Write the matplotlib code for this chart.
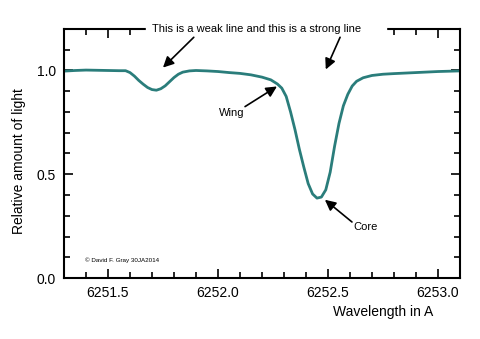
import numpy as np
import matplotlib
matplotlib.use("Agg")
import matplotlib.pyplot as plt
from matplotlib.ticker import MultipleLocator
from matplotlib.patches import Rectangle

plt.rcParams['font.family'] = ['Liberation Sans', 'DejaVu Sans']

# Espectro: longitud de onda (A) y flujo relativo
wave = [6251.30, 6251.35, 6251.40, 6251.45, 6251.50, 6251.55, 6251.58,
        6251.60, 6251.62, 6251.64, 6251.66, 6251.68, 6251.70, 6251.72,
        6251.74, 6251.76, 6251.78, 6251.80, 6251.82, 6251.84, 6251.87,
        6251.90, 6251.95, 6252.00, 6252.05, 6252.10, 6252.15, 6252.20,
        6252.24, 6252.27, 6252.29, 6252.31, 6252.33, 6252.35, 6252.37,
        6252.39, 6252.41, 6252.43, 6252.45, 6252.47, 6252.49, 6252.51,
        6252.53, 6252.55, 6252.57, 6252.59, 6252.61, 6252.63, 6252.66,
        6252.70, 6252.75, 6252.80, 6252.90, 6253.00, 6253.10]
flux = [0.997, 1.000, 1.002, 1.001, 1.000, 0.999, 0.999,
        0.990, 0.973, 0.952, 0.934, 0.918, 0.908, 0.905,
        0.912, 0.926, 0.946, 0.966, 0.982, 0.992, 0.998,
        1.000, 0.998, 0.995, 0.990, 0.986, 0.979, 0.968,
        0.955, 0.935, 0.915, 0.875, 0.800, 0.715, 0.620,
        0.535, 0.455, 0.405, 0.385, 0.390, 0.425, 0.510,
        0.635, 0.745, 0.830, 0.885, 0.925, 0.948, 0.965,
        0.976, 0.982, 0.985, 0.990, 0.995, 0.998]

# Flechas: (punta, cola) en coordenadas de datos
weak_arrow = ((6251.75, 1.014), (6251.89, 1.16))
strong_arrow = ((6252.49, 1.005), (6252.555, 1.16))
wing_arrow = ((6252.268, 0.923), (6252.123, 0.826))
core_arrow = ((6252.486, 0.377), (6252.609, 0.270))

fig = plt.figure(figsize=(4.8, 3.39), dpi=100)
ax = fig.add_axes([0.1333, 0.1799, 0.825, 0.7346])

ax.plot(wave, flux, color='#2a7d7b', lw=2.0, solid_capstyle='round')

ax.set_xlim(6251.3, 6253.1)
ax.set_ylim(0, 1.2)
ax.xaxis.set_major_locator(MultipleLocator(0.5))
ax.xaxis.set_minor_locator(MultipleLocator(0.1))
ax.yaxis.set_major_locator(MultipleLocator(0.5))
ax.yaxis.set_minor_locator(MultipleLocator(0.1))
ax.xaxis.set_major_formatter(matplotlib.ticker.FormatStrFormatter('%.1f'))
ax.yaxis.set_major_formatter(matplotlib.ticker.FormatStrFormatter('%.1f'))

ax.tick_params(which='both', direction='in', top=True, right=True,
               width=1.2, labelsize=10)
ax.tick_params(which='major', length=6.5, pad=6)
ax.tick_params(which='minor', length=4.5)
for s in ax.spines.values():
    s.set_linewidth(1.5)

ax.set_xlabel('Wavelength in A', fontsize=10)
ax.xaxis.set_label_coords(0.805, -0.11)
ax.set_ylabel('Relative amount of light', fontsize=10)
ax.yaxis.set_label_coords(-0.096, 0.47)

# hueco en el borde superior para el texto
ax.add_patch(Rectangle((0.207, 0.955), 0.606, 0.07, transform=ax.transAxes,
                       color='white', clip_on=False, zorder=3))
ax.text(0.487, 1.0, 'This is a weak line and this is a strong line',
        transform=ax.transAxes, ha='center', va='center', fontsize=8,
        zorder=4)

arrow_props = dict(arrowstyle='-|>', color='black', lw=1.2,
                   mutation_scale=16, shrinkA=0, shrinkB=0)
for head, tail in [weak_arrow, strong_arrow, wing_arrow, core_arrow]:
    ax.annotate('', xy=head, xytext=tail, arrowprops=arrow_props,
                annotation_clip=False, zorder=5)

ax.text(6252.064, 0.797, 'Wing', ha='center', va='center', fontsize=8)
ax.text(6252.673, 0.246, 'Core', ha='center', va='center', fontsize=8)
ax.text(6251.395, 0.087, '\u00a9 David F. Gray 30JA2014', ha='left',
        va='center', fontsize=4.5)

fig.savefig('out.png', dpi=100)
